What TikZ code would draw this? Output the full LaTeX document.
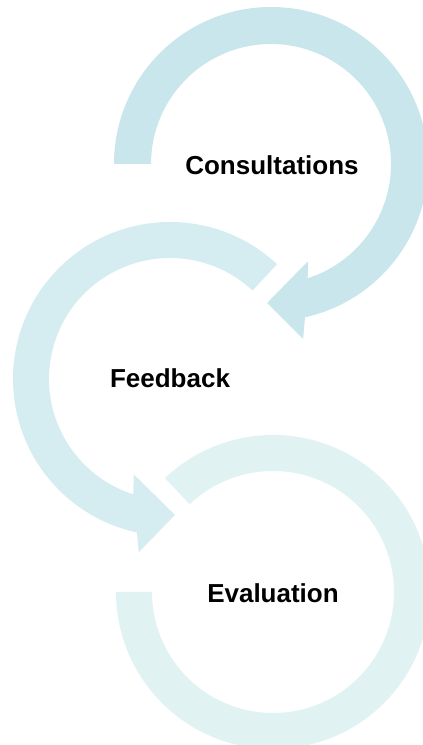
\documentclass[tikz,border=0pt]{standalone}
\usepackage{fontspec}
\setmainfont{Liberation Sans}
\usetikzlibrary{calc}
\definecolor{consultBlue}{RGB}{200,230,235}
\definecolor{feedbackBlue}{RGB}{213,237,240}
\definecolor{evalBlue}{RGB}{224,242,242}
\tikzset{stageLabel/.style={font=\bfseries\fontsize{26}{31}\selectfont, inner sep=0pt, anchor=center}}
\tikzset{consultRing/.style={fill=consultBlue, draw=none}}
\tikzset{feedbackRing/.style={fill=feedbackBlue, draw=none}}
\tikzset{evalRing/.style={fill=evalBlue, draw=none}}

\begin{document}
\begin{tikzpicture}[x=1pt,y=1pt]
\def \rOut{157pt}
\def \rIn{121pt}
\useasboundingbox (0,0) rectangle (423,745);
\clip (0,0) rectangle (423,745);
\coordinate (consultC) at (271,581);
\coordinate (feedbackC) at (170,366);
\coordinate (evalC) at (273,153);

% consultations arrow
\fill[consultRing] ($(consultC)+(180:\rOut)$) arc[start angle=180, end angle=-77.5, radius=\rOut]
  -- ($(consultC)+(-79.6:178pt)$) -- ($(consultC)+(-91.6:139pt)$) -- ($(consultC)+(-69.1:104pt)$)
  -- ($(consultC)+(-72.2:120pt)$) arc[start angle=-72.2, end angle=180, radius=120pt] -- cycle;

% feedback arrow
\fill[feedbackRing] ($(feedbackC)+(47:\rOut)$) arc[start angle=47, end angle=257.8, radius=\rOut]
  -- ($(feedbackC)+(259.8:176pt)$) -- ($(feedbackC)+(272.1:136pt)$) -- ($(feedbackC)+(249.2:102pt)$)
  -- ($(feedbackC)+(252.3:\rIn)$) arc[start angle=252.3, end angle=47, radius=\rIn] -- cycle;

% evaluation ring
\fill[evalRing] ($(evalC)+(180:\rOut)$) arc[start angle=180, end angle=493.5, radius=\rOut]
  -- ($(evalC)+(493.5:\rIn)$) arc[start angle=493.5, end angle=180, radius=\rIn] -- cycle;

\node[stageLabel] (consult) at (272,580) {Consultations};
\node[stageLabel] (feedback) at (170,367) {Feedback};
\node[stageLabel] (eval) at (273,152) {Evaluation};
\end{tikzpicture}
\end{document}
